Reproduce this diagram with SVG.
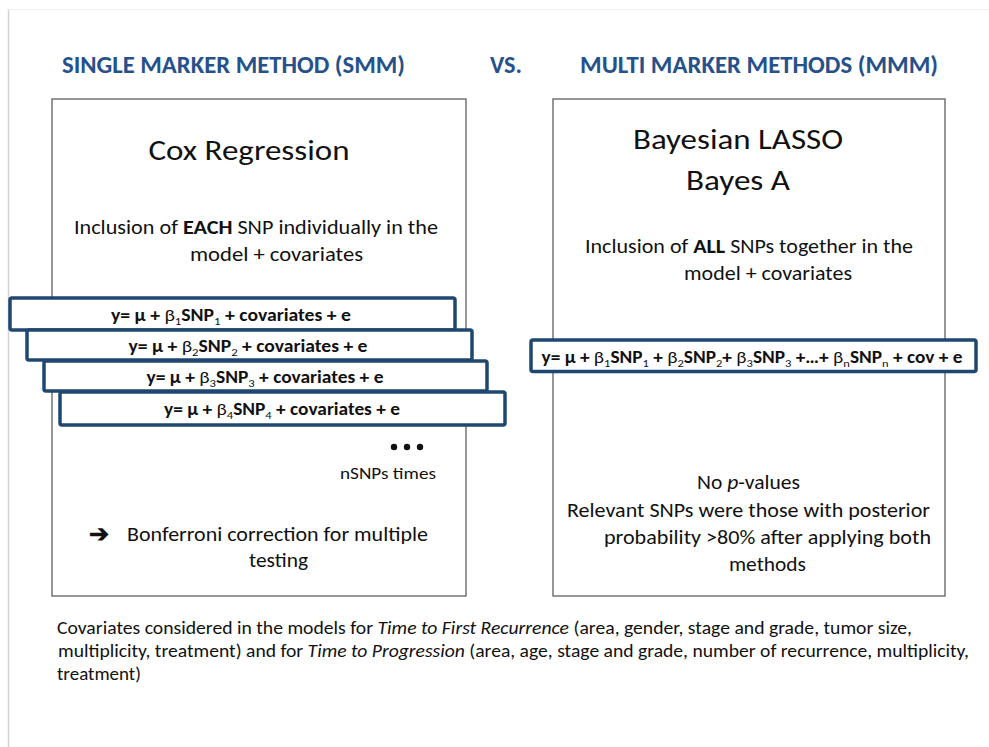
<svg xmlns="http://www.w3.org/2000/svg" width="989" height="747" viewBox="0 0 989 747">
  <style>
    text { font-family: Carlito, Lato, "Open Sans", sans-serif; fill: #111; }
    .hdr { font-weight: bold; font-size: 25px; fill: #26518a; }
    .title { font-size: 29px; text-anchor: middle; }
    .body { font-size: 20.5px; text-anchor: middle; }
    .small { font-size: 17px; }
    .foot { font-size: 18.5px; }
    .eq { font-weight: bold; font-size: 17px; text-anchor: middle; }
    .eq .n { font-weight: normal; }
    .eq .sub { font-weight: normal; font-size: 11px; }
    .panel { fill: #fff; stroke: #5e5e5e; stroke-width: 1.3; }
    .eqbox { fill: #fff; stroke: #1f4770; stroke-width: 3.5; }
  </style>

  <!-- page frame -->
  <line x1="8.5" y1="9" x2="8.5" y2="747" stroke="#d3d3d3" stroke-width="1.5"/>
  <line x1="8" y1="9.5" x2="989" y2="9.5" stroke="#efefef" stroke-width="1"/>

  <!-- headings -->
  <g id="headings">
    <text class="hdr" x="62" y="73" textLength="343" lengthAdjust="spacingAndGlyphs">SINGLE MARKER METHOD (SMM)</text>
    <text class="hdr" x="490" y="73" textLength="32" lengthAdjust="spacingAndGlyphs">VS.</text>
    <text class="hdr" x="580" y="73" textLength="358" lengthAdjust="spacingAndGlyphs">MULTI MARKER METHODS (MMM)</text>
  </g>

  <!-- single marker panel -->
  <g id="smm">
    <rect class="panel" x="52" y="99" width="414" height="497"/>
    <text class="title" x="249" y="160" textLength="201" lengthAdjust="spacingAndGlyphs">Cox Regression</text>
    <text class="body" x="256" y="234" textLength="364" lengthAdjust="spacingAndGlyphs">Inclusion of <tspan font-weight="bold">EACH</tspan> SNP individually in the</text>
    <text class="body" x="276.5" y="261" textLength="173" lengthAdjust="spacingAndGlyphs">model  + covariates</text>

    <g id="eq1">
      <rect class="eqbox" x="10" y="298" width="445" height="32" rx="2"/>
      <text class="eq" x="231" y="321" textLength="240" lengthAdjust="spacingAndGlyphs">y= μ + <tspan class="n">β</tspan><tspan class="sub" dy="4">1</tspan><tspan dy="-4">SNP</tspan><tspan class="sub" dy="4">1</tspan><tspan dy="-4"> + covariates + e</tspan></text>
    </g>
    <g id="eq2">
      <rect class="eqbox" x="27" y="330" width="445" height="30" rx="2"/>
      <text class="eq" x="248" y="352" textLength="239" lengthAdjust="spacingAndGlyphs">y= μ + <tspan class="n">β</tspan><tspan class="sub" dy="4">2</tspan><tspan dy="-4">SNP</tspan><tspan class="sub" dy="4">2</tspan><tspan dy="-4"> + covariates + e</tspan></text>
    </g>
    <g id="eq3">
      <rect class="eqbox" x="44" y="361" width="443" height="30" rx="2"/>
      <text class="eq" x="265" y="383" textLength="237" lengthAdjust="spacingAndGlyphs">y= μ + <tspan class="n">β</tspan><tspan class="sub" dy="4">3</tspan><tspan dy="-4">SNP</tspan><tspan class="sub" dy="4">3</tspan><tspan dy="-4"> + covariates + e</tspan></text>
    </g>
    <g id="eq4">
      <rect class="eqbox" x="60" y="392" width="445" height="33" rx="2"/>
      <text class="eq" x="282" y="415" textLength="236" lengthAdjust="spacingAndGlyphs">y= μ + <tspan class="n">β</tspan><tspan class="sub" dy="4">4</tspan><tspan dy="-4">SNP</tspan><tspan class="sub" dy="4">4</tspan><tspan dy="-4"> + covariates + e</tspan></text>
    </g>

    <g id="ellipsis" fill="#111">
      <circle cx="394" cy="447" r="3.2"/>
      <circle cx="407" cy="447" r="3.2"/>
      <circle cx="420" cy="447" r="3.2"/>
    </g>
    <text class="small" x="436" y="479" text-anchor="end" textLength="96" lengthAdjust="spacingAndGlyphs">nSNPs times</text>

    <text x="89" y="542" font-size="24px" font-weight="bold" font-family="'DejaVu Sans', sans-serif">➔</text>
    <text class="body" x="277.5" y="541" textLength="301" lengthAdjust="spacingAndGlyphs">Bonferroni correction for multiple</text>
    <text class="body" x="278.5" y="567" textLength="59" lengthAdjust="spacingAndGlyphs">testing</text>
  </g>

  <!-- multi marker panel -->
  <g id="mmm">
    <rect class="panel" x="553" y="99" width="392" height="497"/>
    <text class="title" x="738" y="149" textLength="210" lengthAdjust="spacingAndGlyphs">Bayesian LASSO</text>
    <text class="title" x="738" y="190" textLength="104" lengthAdjust="spacingAndGlyphs">Bayes A</text>
    <text class="body" x="749" y="253" textLength="328" lengthAdjust="spacingAndGlyphs">Inclusion of <tspan font-weight="bold">ALL</tspan> SNPs together in the</text>
    <text class="body" x="768" y="280" textLength="168" lengthAdjust="spacingAndGlyphs">model + covariates</text>

    <g id="eqall">
      <rect class="eqbox" x="531" y="340" width="445" height="31.5" rx="2"/>
      <text class="eq" x="752" y="363" textLength="421" lengthAdjust="spacingAndGlyphs">y= μ + <tspan class="n">β</tspan><tspan class="sub" dy="4">1</tspan><tspan dy="-4">SNP</tspan><tspan class="sub" dy="4">1</tspan><tspan dy="-4"> + </tspan><tspan class="n">β</tspan><tspan class="sub" dy="4">2</tspan><tspan dy="-4">SNP</tspan><tspan class="sub" dy="4">2</tspan><tspan dy="-4">+ </tspan><tspan class="n">β</tspan><tspan class="sub" dy="4">3</tspan><tspan dy="-4">SNP</tspan><tspan class="sub" dy="4">3</tspan><tspan dy="-4"> +…+ </tspan><tspan class="n">β</tspan><tspan class="sub" dy="4">n</tspan><tspan dy="-4">SNP</tspan><tspan class="sub" dy="4">n</tspan><tspan dy="-4"> + cov + e</tspan></text>
    </g>

    <text class="body" x="748.5" y="489" textLength="103" lengthAdjust="spacingAndGlyphs">No <tspan font-style="italic">p</tspan>-values</text>
    <text class="body" x="748.5" y="517" textLength="363" lengthAdjust="spacingAndGlyphs">Relevant SNPs were those with posterior</text>
    <text class="body" x="767.5" y="544" textLength="327" lengthAdjust="spacingAndGlyphs">probability &gt;80% after applying both</text>
    <text class="body" x="767.5" y="571" textLength="77" lengthAdjust="spacingAndGlyphs">methods</text>
  </g>

  <!-- footnote -->
  <g id="footnote">
    <text class="foot" x="57" y="634" textLength="855" lengthAdjust="spacingAndGlyphs">Covariates considered in the models for <tspan font-style="italic">Time to First Recurrence</tspan> (area, gender, stage and grade, tumor size,</text>
    <text class="foot" x="58" y="657" textLength="911" lengthAdjust="spacingAndGlyphs">multiplicity, treatment) and for <tspan font-style="italic">Time to Progression</tspan> (area, age, stage and grade, number of recurrence, multiplicity,</text>
    <text class="foot" x="57" y="680" textLength="84" lengthAdjust="spacingAndGlyphs">treatment)</text>
  </g>
</svg>
